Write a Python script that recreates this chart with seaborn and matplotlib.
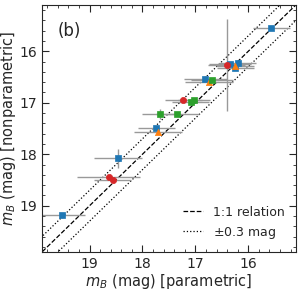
import matplotlib
matplotlib.use("Agg")
import matplotlib.pyplot as plt
import seaborn as sns
import pandas as pd
import numpy as np

# data: (parametric, nonparametric, xerr, yerr)
blue_x = [15.57, 16.35, 16.20, 16.25, 16.81, 17.74, 18.46, 19.53]
blue_y = [15.54, 16.24, 16.22, 16.33, 16.53, 17.49, 18.08, 19.19]
blue_xe = [0.35, 0.40, 0.35, 0.35, 0.40, 0.35, 0.45, 0.45]
blue_ye = [0.04, 0.04, 0.05, 0.04, 0.04, 0.04, 0.18, 0.04]

red_x = [16.41, 17.23, 18.64, 18.56]
red_y = [16.27, 16.95, 18.44, 18.51]
red_xe = [0.35, 0.35, 0.60, 0.35]
red_ye = [0.90, 0.04, 0.04, 0.04]

orange_x = [16.25, 16.74, 17.71]
orange_y = [16.29, 16.60, 17.56]
orange_xe = [0.35, 0.45, 0.45]
orange_ye = [0.04, 0.04, 0.04]

green_x = [16.69, 17.09, 17.02, 17.66, 17.34]
green_y = [16.56, 16.98, 16.94, 17.22, 17.22]
green_xe = [0.40, 0.35, 0.30, 0.35, 0.40]
green_ye = [0.04, 0.04, 0.04, 0.10, 0.04]

sns.set_style("ticks")
plt.rcParams['font.family'] = ['DejaVu Sans']

fig = plt.figure(figsize=(3.01, 2.91), dpi=100)
ax = fig.add_axes([0.1395, 0.134, 0.8435, 0.849])

groups = [
    ("blue", blue_x, blue_y, blue_xe, blue_ye, "tab:blue", "s"),
    ("red", red_x, red_y, red_xe, red_ye, "tab:red", "o"),
    ("orange", orange_x, orange_y, orange_xe, orange_ye, "tab:orange", "^"),
    ("green", green_x, green_y, green_xe, green_ye, "tab:green", "s"),
]

for name, xs, ys, xe, ye, c, m in groups:
    ax.errorbar(xs, ys, xerr=xe, yerr=ye, fmt="none", ecolor="#999999",
                elinewidth=1.0, capsize=0, zorder=2)

frames = []
for name, xs, ys, xe, ye, c, m in groups:
    frames.append(pd.DataFrame({"x": xs, "y": ys, "g": name}))
df = pd.concat(frames, ignore_index=True)

for name, xs, ys, xe, ye, c, m in groups:
    sub = df[df.g == name]
    sns.scatterplot(data=sub, x="x", y="y", color=c, marker=m, s=20,
                    edgecolor=c, linewidth=0.5, ax=ax, zorder=3, legend=False)

lims = [19.9, 15.1]
line = np.array([14.5, 20.5])
ax.plot(line, line, color="black", ls="--", lw=0.9, label="1:1 relation", zorder=1)
ax.plot(line, line + 0.3, color="black", ls=":", lw=0.9, label=r"$\pm$0.3 mag", zorder=1)
ax.plot(line, line - 0.3, color="black", ls=":", lw=0.9, zorder=1)

ax.set_xlim(lims)
ax.set_ylim(lims)
ax.set_xticks([19, 18, 17, 16])
ax.set_yticks([16, 17, 18, 19])
ax.xaxis.set_minor_locator(matplotlib.ticker.MultipleLocator(0.2))
ax.yaxis.set_minor_locator(matplotlib.ticker.MultipleLocator(0.2))
ax.tick_params(which="both", direction="in", top=True, right=True, labelsize=10)
ax.tick_params(which="major", length=5)
ax.tick_params(which="minor", length=2.5)
for sp in ax.spines.values():
    sp.set_linewidth(0.8)

ax.set_xlabel(r"$m_B$ (mag) [parametric]", fontsize=10.5, labelpad=1)
ax.set_ylabel(r"$m_B$ (mag) [nonparametric]", fontsize=10.5, labelpad=1)
ax.text(0.06, 0.93, "(b)", transform=ax.transAxes, fontsize=12, va="top")
ax.legend(loc="lower right", frameon=False, fontsize=9, handlelength=1.6)

fig.savefig("out.png", dpi=100)
